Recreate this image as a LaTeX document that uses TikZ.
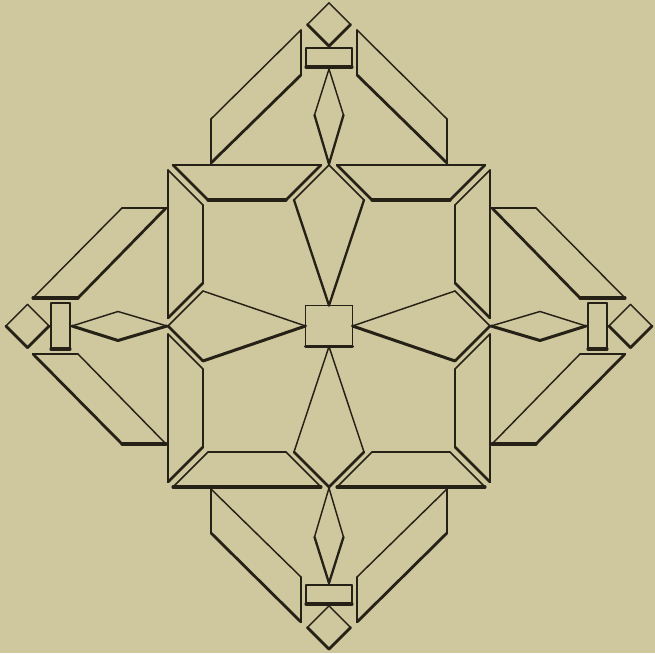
\documentclass[tikz,border=0pt]{standalone}
\definecolor{paper}{RGB}{207,199,158}
\definecolor{ink}{RGB}{38,33,22}
% draw one edge; its width grows when it faces downwards (woodcut shading)
\newcommand\quadedge[4]{%
  \pgfmathsetmacro\qDx{((#3)-(#1))/100}%
  \pgfmathsetmacro\qDy{((#4)-(#2))/100}%
  \pgfmathsetmacro\qT{\qSg*(\qDx*\qCa+\qDy*\qSa)/veclen(\qDx,\qDy)}%
  \pgfmathsetmacro\qLw{1.45+1.6*sqrt(max(0,\qT))}%
  \draw[ink, line width=\qLw pt, line cap=round] (#1,#2) -- (#3,#4);
}
% #1 angle of the enclosing rotation, #2..#9 four vertices
\newcommand\quadshape[9]{%
  \pgfmathsetmacro\qCa{cos(#1)}%
  \pgfmathsetmacro\qSa{sin(#1)}%
  \pgfmathsetmacro\qAr{-((#2/100)*(#5/100)-(#4/100)*(#3/100)+(#4/100)*(#7/100)-(#6/100)*(#5/100)+(#6/100)*(#9/100)-(#8/100)*(#7/100)+(#8/100)*(#3/100)-(#2/100)*(#9/100))}%
  \pgfmathsetmacro\qSg{\qAr>0 ? 1 : -1}%
  \quadedge{#2}{#3}{#4}{#5}%
  \quadedge{#4}{#5}{#6}{#7}%
  \quadedge{#6}{#7}{#8}{#9}%
  \quadedge{#8}{#9}{#2}{#3}%
}
\begin{document}
\begin{tikzpicture}[x=1pt,y=-1pt]
\useasboundingbox[fill=paper] (-329,-326) rectangle (326,327);
% arms and frame, repeated in four directions
\foreach \a in {0,90,180,270}{
  \begin{scope}[rotate=\a]
    % end diamond
    \quadshape{\a}{0}{-323.2}{21.7}{-301.5}{0}{-279.8}{-21.7}{-301.5}
    % bar
    \quadshape{\a}{-23}{-278}{23}{-278}{23}{-259}{-23}{-259}
    % small kite
    \quadshape{\a}{0}{-257}{14.5}{-211}{0}{-162}{-14.5}{-211}
    % slanted parallelograms
    \quadshape{\a}{-118}{-163}{-118}{-207}{-28}{-296}{-28}{-251}
    \quadshape{\a}{118}{-163}{118}{-207}{28}{-296}{28}{-251}
    % frame trapezoids
    \quadshape{\a}{-156}{-161}{-8}{-161}{-43}{-126}{-121}{-126}
    \quadshape{\a}{156}{-161}{8}{-161}{43}{-126}{121}{-126}
  \end{scope}
}
% central square
\quadshape{0}{-23.5}{-20.5}{23.5}{-20.5}{23.5}{20.5}{-23.5}{20.5}
% central kites
\quadshape{0}{0}{-161}{35}{-126}{0}{-20.5}{-35}{-126}
\quadshape{0}{0}{161}{35}{126}{0}{20.5}{-35}{126}
\quadshape{0}{-161}{0}{-126}{-35}{-23.5}{0}{-126}{35}
\quadshape{0}{161}{0}{126}{-35}{23.5}{0}{126}{35}
\end{tikzpicture}
\end{document}
